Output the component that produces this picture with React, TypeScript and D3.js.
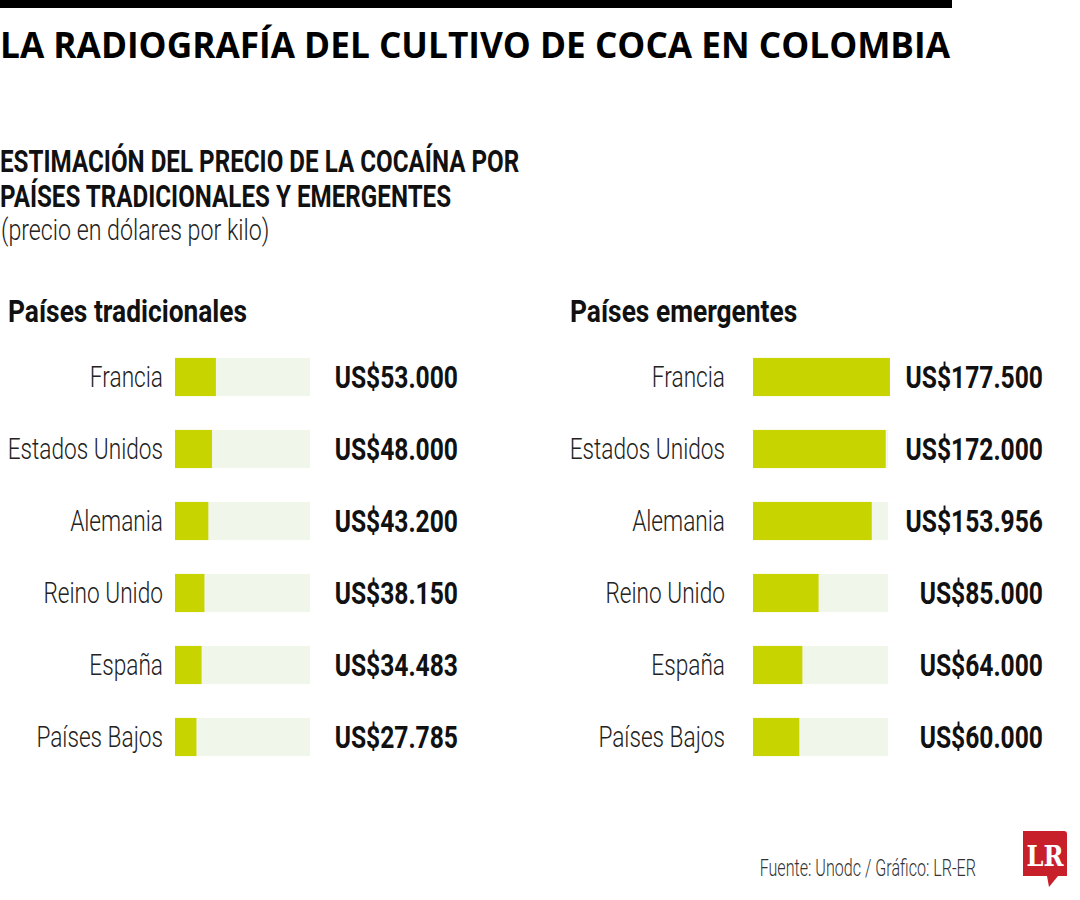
import React from 'react';
import * as d3 from 'd3';

const title = 'LA RADIOGRAFÍA DEL CULTIVO DE COCA EN COLOMBIA';
const subtitleLines = ['ESTIMACIÓN DEL PRECIO DE LA COCAÍNA POR', 'PAÍSES TRADICIONALES Y EMERGENTES'];
const unitNote = '(precio en dólares por kilo)';
const source = 'Fuente: Unodc / Gráfico: LR-ER';

const countries = ['Francia', 'Estados Unidos', 'Alemania', 'Reino Unido', 'España', 'Países Bajos'];
const traditionalValues = [53000, 48000, 43200, 38150, 34483, 27785];
const emergingValues = [177500, 172000, 153956, 85000, 64000, 60000];

const W = 1080;
const H = 900;
const barColor = '#c8d400';
const trackColor = '#f1f6ea';
const font = 'Roboto, "Noto Sans", sans-serif';

const fmt = (v: number) => 'US$' + d3.format(',')(v).replace(/,/g, '.');

const y = d3.scaleBand<string>().domain(countries).range([341, 773]).paddingInner(0.47).paddingOuter(0.235);
const x = d3.scaleLinear().domain([0, 175000]).range([0, 135]);

// condensed text: the fonts we have are wider than the original, squeeze horizontally
const T: React.FC<{
  x: number; y: number; sx: number; size: number; weight?: number; anchor?: string; fill?: string; children: React.ReactNode;
}> = ({ x, y, sx, size, weight = 400, anchor = 'start', fill = '#111', children }) => (
  <text
    transform={`translate(${x},${y}) scale(${sx},1)`}
    textAnchor={anchor}
    fontFamily={font}
    fontWeight={weight}
    fontSize={size}
    fill={fill}
  >
    {children}
  </text>
);

interface PanelProps {
  heading: string;
  headingX: number;
  labelRight: number;
  barX: number;
  valueRight: number;
  values: number[];
}

const Panel: React.FC<PanelProps> = ({ heading, headingX, labelRight, barX, valueRight, values }) => (
  <g>
    <T x={headingX} y={322} sx={0.85} size={31} weight={700}>
      {heading}
    </T>
    {countries.map((c, i) => {
      const yy = y(c) ?? 0;
      const mid = yy + y.bandwidth() / 2;
      return (
        <g key={c}>
          <T x={labelRight} y={mid + 10} sx={0.755} size={30} weight={300} anchor="end" fill="#222">
            {c}
          </T>
          <rect x={barX} y={yy} width={x(175000)} height={y.bandwidth()} fill={trackColor} />
          <rect x={barX} y={yy} width={x(values[i])} height={y.bandwidth()} fill={barColor} />
          <T x={valueRight} y={mid + 11} sx={0.77} size={32} weight={700} anchor="end">
            {fmt(values[i])}
          </T>
        </g>
      );
    })}
  </g>
);

export default function App() {
  return (
    <svg width={W} height={H} style={{ position: 'absolute', left: 0, top: 0, background: '#fff' }}>
      <rect x={0} y={0} width={952} height={8} fill="#000" />
      <text x={0} y={58} fontFamily='"Open Sans", sans-serif' fontWeight={700} fontSize={36} fill="#000"
        textLength={950} lengthAdjust="spacingAndGlyphs">
        {title}
      </text>
      {subtitleLines.map((s, i) => (
        <T key={s} x={0} y={172 + i * 35} sx={0.756} size={32} weight={700}>
          {s}
        </T>
      ))}
      <T x={1} y={240} sx={0.8} size={29} weight={300} fill="#222">
        {unitNote}
      </T>

      <Panel heading="Países tradicionales" headingX={8} labelRight={163} barX={175} valueRight={458} values={traditionalValues} />
      <Panel heading="Países emergentes" headingX={570} labelRight={725} barX={753} valueRight={1043} values={emergingValues} />

      <T x={976} y={876} sx={0.7} size={23} weight={300} anchor="end" fill="#333">
        {source}
      </T>
      <g>
        <path d="M1023,831 H1064 Q1067,831 1067,834 V876 H1058 L1049,887 L1047,876 H1023 Z" fill="#c8202a" />
        <text x={1045} y={866} textAnchor="middle" fontFamily='"DejaVu Serif", "Liberation Serif", serif'
          fontWeight={700} fontSize={28} fill="#fff" textLength={37} lengthAdjust="spacingAndGlyphs">
          LR
        </text>
      </g>
    </svg>
  );
}
